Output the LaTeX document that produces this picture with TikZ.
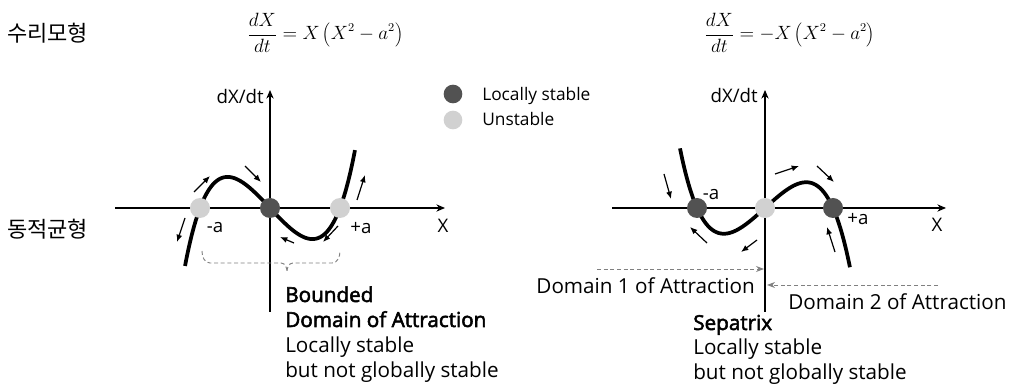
\documentclass[tikz,border=0pt]{standalone}
\usepackage{fontspec}
\setmainfont{Open Sans}[AutoFakeBold=2.5]
\newfontfamily\kr{Noto Sans CJK KR}
\usetikzlibrary{arrows.meta}
\begin{document}
\begin{tikzpicture}[x=0.75pt,y=-0.75pt,
  axis/.style={line width=0.8pt,-{Stealth[length=6.5pt,width=5.5pt]}},
  curve/.style={line width=2.8pt},
  flow/.style={line width=0.9pt,-{Latex[length=5.5pt,width=4.5pt]}},
  stab/.style={circle,fill=black!68,minimum size=15pt,inner sep=0pt},
  unst/.style={circle,fill=black!18,minimum size=15pt,inner sep=0pt},
  lab/.style={font=\fontsize{14}{16}\selectfont,inner sep=0pt},
  big/.style={font=\fontsize{15.5}{18}\selectfont,inner sep=0pt},
  bigb/.style={font=\bfseries\fontsize{15.5}{18}\selectfont,inner sep=0pt},
  leg/.style={font=\fontsize{13}{15}\selectfont,inner sep=0pt},
  dgray/.style={gray,line width=0.7pt,dash pattern=on 3pt off 2pt},
  dgarr/.style={dgray,-{Stealth[length=6pt,width=4.5pt]}}
]
\useasboundingbox (0,0) rectangle (1017,384);

% row labels
\node[anchor=west,inner sep=0pt,font=\kr\fontsize{16.5}{18}\selectfont] (r1) at (7,33) {수리모형};
\node[anchor=west,inner sep=0pt,font=\kr\fontsize{16.5}{18}\selectfont] (r2) at (7,229) {동적균형};

% equations
\node[anchor=west,inner sep=0pt,font=\fontsize{13.5}{16}\selectfont] (eq1) at (247,33) {$\displaystyle \frac{dX}{dt}=X\left(X^{2}-a^{2}\right)$};
\node[anchor=west,inner sep=0pt,font=\fontsize{13.5}{16}\selectfont] (eq2) at (704,33) {$\displaystyle \frac{dX}{dt}=-X\left(X^{2}-a^{2}\right)$};

% legend
\node[stab,minimum size=14pt] (ls) at (453,94) {};
\node[unst,minimum size=14pt] (lu) at (453,120) {};
\node[leg,anchor=base west] (lst) at (482,101) {Locally stable};
\node[leg,anchor=base west] (lut) at (482,126) {Unstable};

% ---------------- left plot ----------------
\coordinate (LxS) at (115,208);
\coordinate (LxE) at (445,208);
\coordinate (LyS) at (270,312);
\coordinate (LyE) at (270,90);
\draw[axis] (LxS) -- (LxE);
\draw[axis] (LyS) -- (LyE);
\node[lab,anchor=base east] (Ldx) at (264,104) {dX/dt};
\node[lab] (LX) at (443,226) {X};
\draw[curve] plot[domain=-1.214:1.214,samples=80,smooth] ({270+70*\x},{208-70*\x*(\x*\x-1)*(1.065+0.254*\x*\x)});
\node[unst] (Lm) at (200,208) {};
\node[stab] (L0) at (270,208) {};
\node[unst] (Lp) at (340,208) {};
\node[lab] (Lma) at (215,228) {-a};
\node[lab] (Lpa) at (361,228) {+a};
\draw[flow] (194,192) -- (210,176);
\draw[flow] (245,166) -- (261,182);
\draw[flow] (185,218) -- (177,242);
\draw[flow] (357,200) -- (365,175);
\draw[flow] (338,226) -- (323,242);
\draw[flow] (294,243) -- (280,237);
% brace
\draw[dgray] (202,251) to[out=-90,in=180] (210,263) -- (281,263) to[out=0,in=90] (287,272)
  to[out=90,in=180] (293,263) -- (332,263) to[out=0,in=-90] (340,251);
\node[bigb,anchor=base west] (b1) at (285,302) {Bounded};
\node[bigb,anchor=base west] (b2) at (285,327) {Domain of Attraction};
\node[big,anchor=base west] (b3) at (285,353) {Locally stable};
\node[big,anchor=base west] (b4) at (285,378) {but not globally stable};

% ---------------- right plot ----------------
\coordinate (RxS) at (612,208);
\coordinate (RxE) at (946,208);
\coordinate (RyS) at (765,312);
\coordinate (RyE) at (765,90);
\draw[axis] (RxS) -- (RxE);
\draw[axis] (RyS) -- (RyE);
\node[lab,anchor=base east] (Rdx) at (758,103) {dX/dt};
\node[lab] (RX) at (937,225) {X};
\draw[curve] plot[domain=-1.25:1.25,samples=80,smooth] ({765+68*\x},{208+58*\x*(\x*\x-1)*(1.065+0.254*\x*\x)});
\node[stab] (Rm) at (697,208) {};
\node[unst] (R0) at (765,208) {};
\node[stab] (Rp) at (833,208) {};
\node[lab] (Rma) at (711,195) {-a};
\node[lab] (Rpa) at (858,219) {+a};
\draw[flow] (664,174) -- (671,199);
\draw[flow] (707,243) -- (690,227);
\draw[flow] (757,240) -- (741,252);
\draw[flow] (775,174) -- (799,166);
\draw[flow] (817,166) -- (834,182);
\draw[flow] (835,252) -- (827,227);
% domains
\coordinate (d1s) at (597,269);
\coordinate (d1e) at (764,269);
\coordinate (d2s) at (938,285);
\coordinate (d2e) at (767,285);
\draw[dgarr] (d1s) -- (d1e);
\draw[dgarr] (d2s) -- (d2e);
\node[big,anchor=base east] (dm1) at (755,294) {Domain 1 of Attraction};
\node[big,anchor=base west] (dm2) at (788,310) {Domain 2 of Attraction};
\node[bigb,anchor=base west] (s1) at (693,330) {Sepatrix};
\node[big,anchor=base west] (s2) at (693,355) {Locally stable};
\node[big,anchor=base west] (s3) at (693,380) {but not globally stable};
\end{tikzpicture}
\end{document}
